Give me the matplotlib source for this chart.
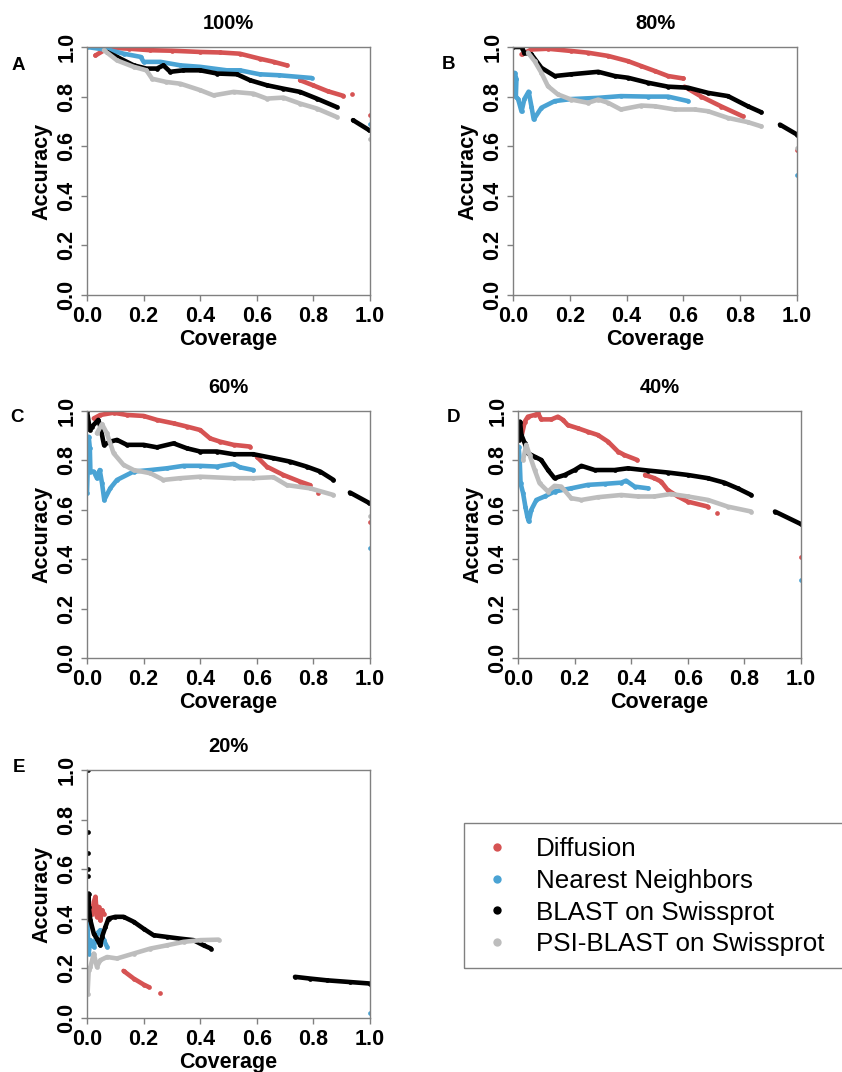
import numpy as np
import matplotlib.pyplot as plt
from matplotlib.lines import Line2D
from matplotlib.patches import Rectangle

plt.rcParams['font.family'] = ['Liberation Sans', 'DejaVu Sans']

nan = np.nan

# ---------------------------------------------------------
# data: coverage (x) vs accuracy (y)
# nan breaks a curve where the original has a gap
# ---------------------------------------------------------

# A: 100%
a_diff_x = [0.03, 0.065, 0.1, 0.15, 0.224, 0.3, 0.4, 0.47, 0.54, 0.61, 0.66, 0.706, nan, 0.753, 0.8, 0.85, 0.906, nan, 0.935, nan, 1.0]
a_diff_y = [0.966, 0.99, 0.996, 0.993, 0.987, 0.985, 0.98, 0.978, 0.973, 0.953, 0.94, 0.926, nan, 0.866, 0.845, 0.822, 0.803, nan, 0.812, nan, 0.725]
a_nn_x = [0.0, 0.08, 0.13, 0.19, 0.2, 0.26, 0.33, 0.4, 0.494, 0.54, 0.61, 0.68, 0.794, nan, 1.0]
a_nn_y = [1.0, 0.987, 0.973, 0.96, 0.94, 0.94, 0.926, 0.92, 0.906, 0.906, 0.89, 0.886, 0.875, nan, 0.69]
a_blast_x = [0.07, 0.106, 0.165, 0.21, 0.247, 0.27, 0.294, 0.34, 0.4, 0.46, 0.53, 0.576, 0.635, 0.694, 0.753, 0.812, 0.882, nan, 0.94, 0.998]
a_blast_y = [0.98, 0.96, 0.926, 0.913, 0.913, 0.926, 0.9, 0.906, 0.906, 0.893, 0.89, 0.866, 0.846, 0.832, 0.819, 0.792, 0.758, nan, 0.705, 0.664]
a_psi_x = [0.06, 0.106, 0.165, 0.21, 0.23, 0.28, 0.33, 0.4, 0.447, 0.518, 0.588, 0.635, 0.694, 0.753, 0.812, 0.882, nan, 1.0]
a_psi_y = [0.987, 0.946, 0.92, 0.906, 0.872, 0.859, 0.852, 0.826, 0.805, 0.819, 0.812, 0.792, 0.796, 0.772, 0.752, 0.718, nan, 0.63]

# B: 80%
b_diff_x = [0.03, 0.065, 0.123, 0.205, 0.264, 0.335, 0.405, 0.452, 0.5, 0.546, 0.6, nan, 0.604, 0.663, 0.734, 0.81, nan, 1.0]
b_diff_y = [0.97, 0.99, 0.993, 0.984, 0.977, 0.964, 0.943, 0.923, 0.903, 0.883, 0.873, nan, 0.84, 0.8, 0.76, 0.72, nan, 0.584]
b_nn_x = [0.006, 0.012, 0.01, 0.018, 0.03, 0.04, 0.055, 0.065, 0.073, 0.1, 0.147, 0.205, 0.3, 0.38, 0.475, 0.546, 0.616, nan, 1.0]
b_nn_y = [0.896, 0.87, 0.8, 0.79, 0.74, 0.79, 0.82, 0.76, 0.708, 0.755, 0.782, 0.79, 0.795, 0.802, 0.8, 0.8, 0.782, nan, 0.485]
b_blast_x = [0.0, 0.03, 0.04, 0.065, 0.1, 0.147, 0.205, 0.3, 0.358, 0.405, 0.475, 0.546, 0.616, 0.687, 0.757, 0.827, 0.874, nan, 0.94, 1.0]
b_blast_y = [1.0, 1.0, 0.977, 0.97, 0.916, 0.883, 0.89, 0.9, 0.883, 0.876, 0.856, 0.84, 0.836, 0.815, 0.802, 0.761, 0.737, nan, 0.687, 0.647]
b_psi_x = [0.053, 0.076, 0.1, 0.123, 0.158, 0.205, 0.264, 0.3, 0.335, 0.38, 0.452, 0.5, 0.57, 0.64, 0.687, 0.757, 0.827, 0.874, nan, 1.0]
b_psi_y = [0.977, 0.943, 0.896, 0.842, 0.809, 0.788, 0.775, 0.788, 0.775, 0.748, 0.764, 0.761, 0.748, 0.748, 0.741, 0.714, 0.697, 0.68, nan, 0.593]

# C: 60%
c_diff_x = [0.024, 0.047, 0.094, 0.141, 0.2, 0.247, 0.306, 0.353, 0.4, 0.435, 0.47, 0.518, 0.576, nan, 0.6, 0.635, 0.694, 0.753, 0.788, nan, 0.818, nan, 1.0]
c_diff_y = [0.97, 0.984, 0.993, 0.984, 0.98, 0.964, 0.95, 0.937, 0.923, 0.889, 0.876, 0.863, 0.856, nan, 0.815, 0.775, 0.741, 0.714, 0.7, nan, 0.67, nan, 0.549]
c_nn_x = [0.0, 0.006, 0.01, 0.012, 0.024, 0.035, 0.045, 0.053, 0.061, 0.082, 0.106, 0.165, 0.224, 0.282, 0.341, 0.4, 0.459, 0.518, 0.541, 0.588, nan, 1.0]
c_nn_y = [0.67, 0.896, 0.85, 0.755, 0.755, 0.728, 0.761, 0.708, 0.64, 0.687, 0.721, 0.755, 0.761, 0.768, 0.778, 0.778, 0.775, 0.786, 0.772, 0.761, nan, 0.445]
c_blast_x = [0.0, 0.01, 0.018, 0.04, 0.047, 0.06, 0.082, 0.106, 0.141, 0.2, 0.247, 0.306, 0.353, 0.4, 0.459, 0.518, 0.588, 0.659, 0.718, 0.776, 0.824, 0.871, nan, 0.929, 0.998]
c_blast_y = [1.0, 0.923, 0.937, 0.964, 0.937, 0.863, 0.876, 0.883, 0.863, 0.863, 0.853, 0.869, 0.849, 0.836, 0.836, 0.825, 0.825, 0.809, 0.795, 0.775, 0.755, 0.721, nan, 0.67, 0.627]
c_psi_x = [0.035, 0.053, 0.07, 0.094, 0.129, 0.165, 0.224, 0.27, 0.329, 0.4, 0.518, 0.588, 0.659, 0.706, 0.788, 0.871, nan, 1.0]
c_psi_y = [0.91, 0.947, 0.91, 0.829, 0.782, 0.761, 0.748, 0.721, 0.728, 0.734, 0.728, 0.728, 0.732, 0.7, 0.687, 0.66, nan, 0.573]

# D: 40%
d_diff_x = [0.012, 0.024, 0.035, 0.059, 0.071, 0.082, 0.118, 0.141, 0.159, 0.176, 0.212, 0.247, 0.282, 0.318, 0.353, 0.376, 0.421, nan, 0.449, 0.482, 0.506, 0.529, 0.565, 0.6, 0.671, nan, 0.702, nan, 1.0]
d_diff_y = [0.896, 0.957, 0.977, 0.984, 0.99, 0.966, 0.966, 0.977, 0.964, 0.943, 0.93, 0.916, 0.903, 0.876, 0.836, 0.822, 0.802, nan, 0.741, 0.728, 0.714, 0.68, 0.654, 0.633, 0.613, nan, 0.586, nan, 0.408]
d_nn_x = [0.002, 0.006, 0.009, 0.018, 0.026, 0.033, 0.038, 0.047, 0.065, 0.094, 0.129, 0.188, 0.247, 0.306, 0.365, 0.382, 0.412, 0.459, nan, 1.0]
d_nn_y = [0.856, 0.802, 0.708, 0.667, 0.613, 0.573, 0.553, 0.6, 0.64, 0.654, 0.674, 0.687, 0.701, 0.705, 0.71, 0.718, 0.694, 0.687, nan, 0.317]
d_blast_x = [0.002, 0.007, 0.012, 0.024, 0.035, 0.059, 0.082, 0.106, 0.129, 0.165, 0.2, 0.224, 0.271, 0.341, 0.388, 0.459, 0.529, 0.6, 0.671, 0.729, 0.776, 0.824, nan, 0.908, 1.0]
d_blast_y = [0.883, 0.957, 0.903, 0.869, 0.829, 0.815, 0.802, 0.761, 0.728, 0.741, 0.761, 0.778, 0.761, 0.761, 0.768, 0.759, 0.751, 0.741, 0.728, 0.71, 0.687, 0.66, nan, 0.593, 0.542]
d_psi_x = [0.018, 0.029, 0.041, 0.059, 0.076, 0.106, 0.129, 0.153, 0.188, 0.224, 0.282, 0.365, 0.424, 0.482, 0.541, 0.6, 0.671, 0.741, 0.824]
d_psi_y = [0.802, 0.863, 0.822, 0.761, 0.708, 0.674, 0.697, 0.694, 0.647, 0.64, 0.651, 0.66, 0.654, 0.654, 0.664, 0.654, 0.64, 0.613, 0.593]

# E: 20%
e_diff_x = [0.012, 0.018, 0.024, 0.03, 0.035, 0.041, 0.047, 0.053, 0.059, nan, 0.129, 0.165, 0.2, 0.218, nan, 0.259]
e_diff_y = [0.448, 0.421, 0.468, 0.489, 0.408, 0.448, 0.394, 0.435, 0.421, nan, 0.19, 0.159, 0.135, 0.125, nan, 0.101]
e_nn_x = [0.0, 0.006, 0.012, 0.024, 0.035, 0.047, 0.059, 0.071, nan, 1.0]
e_nn_y = [0.421, 0.26, 0.314, 0.287, 0.34, 0.354, 0.314, 0.287, nan, 0.02]
e_blast_x = [0.002, nan, 0.002, nan, 0.003, nan, 0.003, nan, 0.003, nan, 0.006, 0.006, 0.012, 0.024, 0.035, 0.047, 0.053, 0.065, 0.076, 0.1, 0.129, 0.165, 0.2, 0.235, 0.282, 0.329, 0.376, 0.412, 0.438, nan, 0.735, 0.788, 0.847, 0.929, 1.0]
e_blast_y = [1.0, nan, 0.751, nan, 0.666, nan, 0.6, nan, 0.572, nan, 0.502, 0.448, 0.394, 0.34, 0.32, 0.293, 0.327, 0.367, 0.401, 0.408, 0.408, 0.388, 0.36, 0.334, 0.327, 0.32, 0.314, 0.293, 0.28, nan, 0.166, 0.159, 0.152, 0.145, 0.139]
e_psi_x = [0.002, 0.006, 0.012, 0.024, 0.035, 0.047, 0.071, 0.106, 0.165, 0.224, 0.282, 0.341, 0.4, 0.465]
e_psi_y = [0.098, 0.192, 0.206, 0.26, 0.206, 0.233, 0.246, 0.24, 0.26, 0.28, 0.293, 0.307, 0.314, 0.316]

methods = ["Diffusion", "Nearest Neighbors", "BLAST on Swissprot", "PSI-BLAST on Swissprot"]
colors = ["#d65353", "#4aa3d4", "#000000", "#bdbdbd"]

panel_letters = ["A", "B", "C", "D", "E"]
panel_titles = ["100%", "80%", "60%", "40%", "20%"]

panel_data = [
    [(a_diff_x, a_diff_y), (a_nn_x, a_nn_y), (a_blast_x, a_blast_y), (a_psi_x, a_psi_y)],
    [(b_diff_x, b_diff_y), (b_nn_x, b_nn_y), (b_blast_x, b_blast_y), (b_psi_x, b_psi_y)],
    [(c_diff_x, c_diff_y), (c_nn_x, c_nn_y), (c_blast_x, c_blast_y), (c_psi_x, c_psi_y)],
    [(d_diff_x, d_diff_y), (d_nn_x, d_nn_y), (d_blast_x, d_blast_y), (d_psi_x, d_psi_y)],
    [(e_diff_x, e_diff_y), (e_nn_x, e_nn_y), (e_blast_x, e_blast_y), (e_psi_x, e_psi_y)],
]

# layout in pixels: axes box (left, top, right, bottom) and letter position
W, H = 842, 1072
boxes = [(87, 47, 370, 295), (513, 47, 797, 295), (87, 411, 370, 658),
         (518, 411, 801, 658), (87, 770, 370, 1018)]
letter_pos = [(12, 70), (442, 69), (10, 422), (447, 422), (13, 772)]

fig = plt.figure(figsize=(W / 100, H / 100), dpi=100)
frame_col = "#808080"
ticks = [0.0, 0.2, 0.4, 0.6, 0.8, 1.0]
tick_labels = ["0.0", "0.2", "0.4", "0.6", "0.8", "1.0"]

for i, (l, t, r, b) in enumerate(boxes):
    ax = fig.add_axes([l / W, 1 - b / H, (r - l) / W, (b - t) / H])
    for (x, y), col in zip(panel_data[i], colors):
        ax.plot(x, y, color=col, lw=3.3, marker="o", ms=3.4, mew=0,
                solid_capstyle="round", solid_joinstyle="round")

    ax.set_xlim(0, 1)
    ax.set_ylim(0, 1)
    ax.set_xticks(ticks)
    ax.set_yticks(ticks)
    ax.set_xticklabels(tick_labels, fontsize=15.5, fontweight="bold")
    ax.set_yticklabels(tick_labels, fontsize=15.5, fontweight="bold",
                       rotation=90, va="center")
    ax.tick_params(axis="both", length=4, width=1, color=frame_col)
    ax.tick_params(axis="x", pad=4.0)
    ax.tick_params(axis="y", pad=3.0)
    for sp in ax.spines.values():
        sp.set_color(frame_col)
        sp.set_linewidth(1)

    ax.set_xlabel("Coverage", fontsize=15.5, fontweight="bold")
    ax.set_ylabel("Accuracy", fontsize=15.5, fontweight="bold")
    ax.xaxis.set_label_coords(0.5, -0.138)
    ax.yaxis.set_label_coords(-0.122, 0.5)

    ax.text(0.5, 1 + 17.7 / (b - t), panel_titles[i], transform=ax.transAxes,
            ha="center", va="baseline", fontsize=14.5, fontweight="bold")
    lx, ly = letter_pos[i]
    fig.text(lx / W, 1 - ly / H, panel_letters[i], ha="left", va="baseline",
             fontsize=13.5, fontweight="bold")

# legend box runs off the right edge in the original
fig.patches.append(Rectangle((464 / W, 1 - 968 / H), 400 / W, 145 / H,
                             transform=fig.transFigure, fill=False,
                             edgecolor=frame_col, lw=1, clip_on=False))
handles = [Line2D([], [], ls="none", marker="o", ms=6, mew=0, color=c) for c in colors]
leg = fig.legend(handles, methods, loc="upper left",
                 bbox_to_anchor=(483 / W, 1 - 837 / H), borderaxespad=0,
                 fontsize=18.7, frameon=False, borderpad=0,
                 labelspacing=0.3, handlelength=1.1, handletextpad=0.95)

fig.savefig("out.png", dpi=100)
